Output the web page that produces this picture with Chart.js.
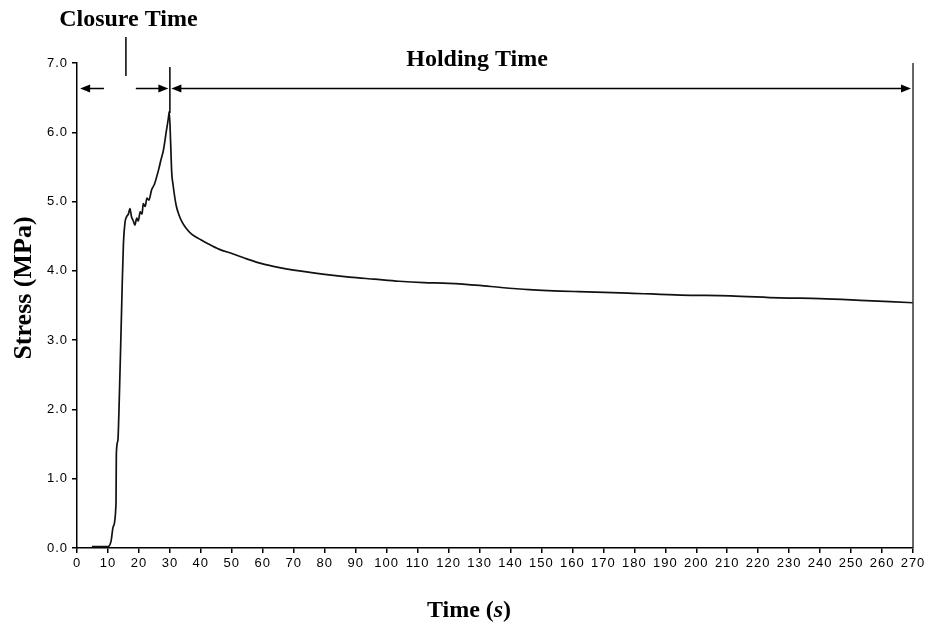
<!DOCTYPE html>
<html>
<head>
<meta charset="utf-8">
<script src="https://cdn.jsdelivr.net/npm/chart.js@4/dist/chart.umd.min.js"></script>
<style>
    html, body { margin: 0; padding: 0; background: #fff; }
    #wrap { width: 927px; height: 624px; }
</style>
</head>
<body>
<div id="wrap"><canvas id="chart"></canvas></div>
<script>
// time (s) and stress (MPa)
const timeValues = [
    4.8, 8, 10, 11, 11.7, 12.6, 12.7, 13.2, 13.5, 13.8, 14.1, 14.6, 15.0, 15.5, 16.0, 16.6, 17.1,
    17.6, 18.2, 18.7, 19.3, 19.8, 20.4, 21.0, 21.4, 22.0, 22.6, 23.2, 24.1, 25.0, 26.3,
    27.1, 27.9, 28.9, 29.5, 29.8, 30.2, 30.6, 31, 32, 33, 34, 35, 37, 40, 42, 46, 50,
    55, 60, 65, 70, 80, 88, 96, 104, 112, 120, 130, 137, 146, 162, 178, 195, 211,
    227, 240, 255, 270
]
const stressValues = [
    0.02, 0.02, 0.02, 0.1, 0.31, 0.65, 1.35, 1.55, 1.9, 2.4, 2.9, 3.8, 4.4, 4.7, 4.78, 4.82, 4.9,
    4.78, 4.72, 4.66, 4.76, 4.72, 4.85, 4.82, 4.97, 4.93, 5.05, 5.02, 5.17, 5.25, 5.45,
    5.6, 5.74, 6.03, 6.2, 6.3, 5.9, 5.41, 5.25, 4.95, 4.8, 4.7, 4.63, 4.53, 4.45, 4.4, 4.31, 4.25,
    4.17, 4.1, 4.05, 4.01, 3.95, 3.91, 3.88, 3.85, 3.83, 3.82, 3.79, 3.76, 3.73, 3.70,
    3.68, 3.65, 3.64, 3.61, 3.6, 3.57, 3.54
]
const xTicks = { min: 0, max: 270, step: 10 }
const yTicks = { min: 0, max: 7, step: 1 }

// annotation positions in data units
const closureMark = 15.8
const peakTime = 30
const holdingEnd = 270
const arrowLevel = 6.64

const points = timeValues.map((t, i) => ({ x: t, y: stressValues[i] }))

function arrowHead(ctx, x, y, dir) {
    ctx.beginPath()
    ctx.moveTo(x, y)
    ctx.lineTo(x - dir * 10, y - 4)
    ctx.lineTo(x - dir * 10, y + 4)
    ctx.closePath()
    ctx.fill()
}

// wider tick lettering, as in the scan
const spacing = {
    id: 'spacing',
    beforeDraw(chart) { chart.ctx.letterSpacing = '1px' },
    beforeDatasetsDraw(chart) { chart.ctx.letterSpacing = '0px' }
}

const annotations = {
    id: 'annotations',
    afterDraw(chart) {
        const ctx = chart.ctx
        const xs = chart.scales.x
        const ys = chart.scales.y
        const top = chart.chartArea.top
        const bottom = chart.chartArea.bottom
        const ay = Math.round(ys.getPixelForValue(arrowLevel)) + 0.5
        const px = xs.getPixelForValue(peakTime)
        const ex = xs.getPixelForValue(holdingEnd)
        const cx = xs.getPixelForValue(closureMark)

        ctx.save()
        ctx.letterSpacing = '0px'
        ctx.strokeStyle = '#000'
        ctx.fillStyle = '#000'
        ctx.lineWidth = 1.5

        // vertical markers
        ctx.beginPath()
        ctx.moveTo(px, top + 4)
        ctx.lineTo(px, ys.getPixelForValue(6.28))
        ctx.stroke()
        ctx.strokeStyle = '#333'
        ctx.beginPath()
        ctx.moveTo(ex, top)
        ctx.lineTo(ex, bottom)
        ctx.stroke()
        ctx.strokeStyle = '#000'
        ctx.beginPath()
        ctx.moveTo(cx, top - 26)
        ctx.lineTo(cx, top + 13)
        ctx.stroke()

        // closure arrows
        const leftTip = xs.getPixelForValue(1)
        ctx.beginPath()
        ctx.moveTo(leftTip + 8, ay)
        ctx.lineTo(xs.getPixelForValue(8.7), ay)
        ctx.moveTo(xs.getPixelForValue(19), ay)
        ctx.lineTo(px - 9, ay)
        ctx.stroke()
        arrowHead(ctx, leftTip, ay, -1)
        arrowHead(ctx, px - 1.5, ay, 1)

        // holding arrow
        ctx.beginPath()
        ctx.moveTo(px + 9, ay)
        ctx.lineTo(ex - 9, ay)
        ctx.stroke()
        arrowHead(ctx, px + 1.5, ay, -1)
        arrowHead(ctx, ex - 2, ay, 1)

        // labels
        ctx.font = 'bold 24px "Liberation Serif", serif'
        ctx.textAlign = 'center'
        ctx.textBaseline = 'alphabetic'
        ctx.fillText('Closure Time', xs.getPixelForValue(16.6), top - 37)
        ctx.fillText('Holding Time', xs.getPixelForValue(129.2), top + 3)

        // x title with italic s
        const parts = [
            ['Time (', 'bold 24px "Liberation Serif", serif'],
            ['s', 'italic bold 24px "Liberation Serif", serif'],
            [')', 'bold 24px "Liberation Serif", serif']
        ]
        let total = 0
        parts.forEach(p => { ctx.font = p[1]; total += ctx.measureText(p[0]).width })
        let tx = 469 - total / 2
        ctx.textAlign = 'left'
        parts.forEach(p => {
            ctx.font = p[1]
            ctx.fillText(p[0], tx, 617)
            tx += ctx.measureText(p[0]).width
        })

        // y title
        ctx.translate(31, 288)
        ctx.rotate(-Math.PI / 2)
        ctx.textAlign = 'center'
        ctx.font = 'bold 26px "Liberation Serif", serif'
        ctx.fillText('Stress (MPa)', 0, 0)
        ctx.restore()
    }
}

const tickFont = { family: '"Liberation Sans", Arial, sans-serif', size: 13 }

new Chart('chart', {
    type: 'scatter',
    data: {
        datasets: [{
            data: points,
            showLine: true,
            borderColor: '#111',
            borderWidth: 1.7,
            pointRadius: 0,
            cubicInterpolationMode: 'monotone'
        }]
    },
    options: {
        responsive: true,
        maintainAspectRatio: false,
        animation: false,
        events: [],
        layout: { padding: { top: 63, right: 14, left: 0, bottom: 0 } },
        plugins: { legend: { display: false }, tooltip: { enabled: false } },
        scales: {
            x: {
                type: 'linear',
                min: xTicks.min,
                max: xTicks.max,
                afterFit(scale) { scale.height = 76 },
                border: { color: '#000', width: 1.5 },
                grid: { drawOnChartArea: false, tickLength: 5, color: '#000', lineWidth: 1.5 },
                ticks: {
                    stepSize: xTicks.step,
                    autoSkip: false,
                    maxRotation: 0,
                    padding: 3,
                    color: '#000',
                    font: tickFont
                }
            },
            y: {
                min: yTicks.min,
                max: yTicks.max,
                afterFit(scale) { scale.width = 77 },
                border: { color: '#000', width: 1.5 },
                grid: { drawOnChartArea: false, tickLength: 5, color: '#000', lineWidth: 1.5 },
                ticks: {
                    stepSize: yTicks.step,
                    padding: 4,
                    color: '#000',
                    font: tickFont,
                    callback: v => v.toFixed(1)
                }
            }
        }
    },
    plugins: [spacing, annotations]
})
</script>
</body>
</html>
